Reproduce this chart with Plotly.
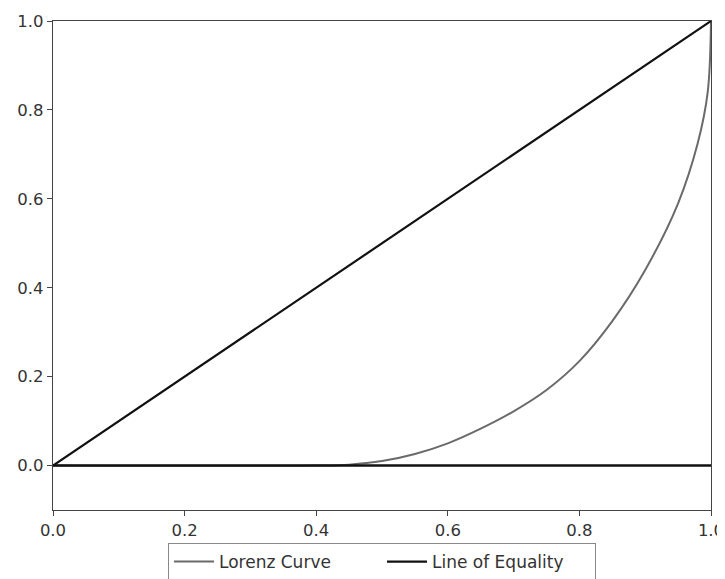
import plotly.graph_objects as go

# Lorenz curve values
lorenz_x = [0.0, 0.40, 0.45, 0.50, 0.55, 0.60, 0.65, 0.70, 0.75, 0.80, 0.85, 0.90, 0.95, 0.98, 0.995, 1.0]
lorenz_y = [0.0, 0.0, 0.002, 0.01, 0.026, 0.05, 0.083, 0.122, 0.17, 0.235, 0.325, 0.44, 0.59, 0.726, 0.84, 1.0]

equality_x = [0.0, 1.0]
equality_y = [0.0, 1.0]

baseline_x = [0.0, 1.0]
baseline_y = [0.0, 0.0]

tick_vals = [0.0, 0.2, 0.4, 0.6, 0.8, 1.0]
tick_text = ["0.0", "0.2", "0.4", "0.6", "0.8", "1.0"]

fig = go.Figure()
fig.add_trace(go.Scatter(x=lorenz_x, y=lorenz_y, mode="lines", name="Lorenz Curve",
                         line=dict(color="#6a6a6a", width=2, shape="spline", smoothing=1.0)))
fig.add_trace(go.Scatter(x=equality_x, y=equality_y, mode="lines", name="Line of Equality",
                         line=dict(color="#111111", width=2.2)))
fig.add_trace(go.Scatter(x=baseline_x, y=baseline_y, mode="lines", showlegend=False,
                         line=dict(color="#111111", width=2.6)))

axis_common = dict(showgrid=False, zeroline=False, showline=True, mirror=True,
                   linecolor="#444444", linewidth=1.3, ticks="outside", ticklen=5,
                   tickwidth=1.2, tickcolor="#444444", automargin=False,
                   tickfont=dict(family="DejaVu Sans", size=16.5, color="#333333"),
                   tickvals=tick_vals, ticktext=tick_text)

fig.update_xaxes(range=[0, 1], **axis_common)
fig.update_yaxes(range=[-0.1, 1.0], **axis_common)

fig.update_layout(
    width=725, height=600,
    margin=dict(l=45, r=22, t=13, b=98),
    paper_bgcolor="white", plot_bgcolor="white",
    showlegend=True,
    legend=dict(orientation="h", x=0.5, xanchor="center", y=-0.0675, yanchor="top",
                bordercolor="#888888", borderwidth=1, bgcolor="white",
                font=dict(family="DejaVu Sans", size=17, color="#333333"),
                itemwidth=40, entrywidth=158, entrywidthmode="pixels"),
)

fig.write_html("out.html")
